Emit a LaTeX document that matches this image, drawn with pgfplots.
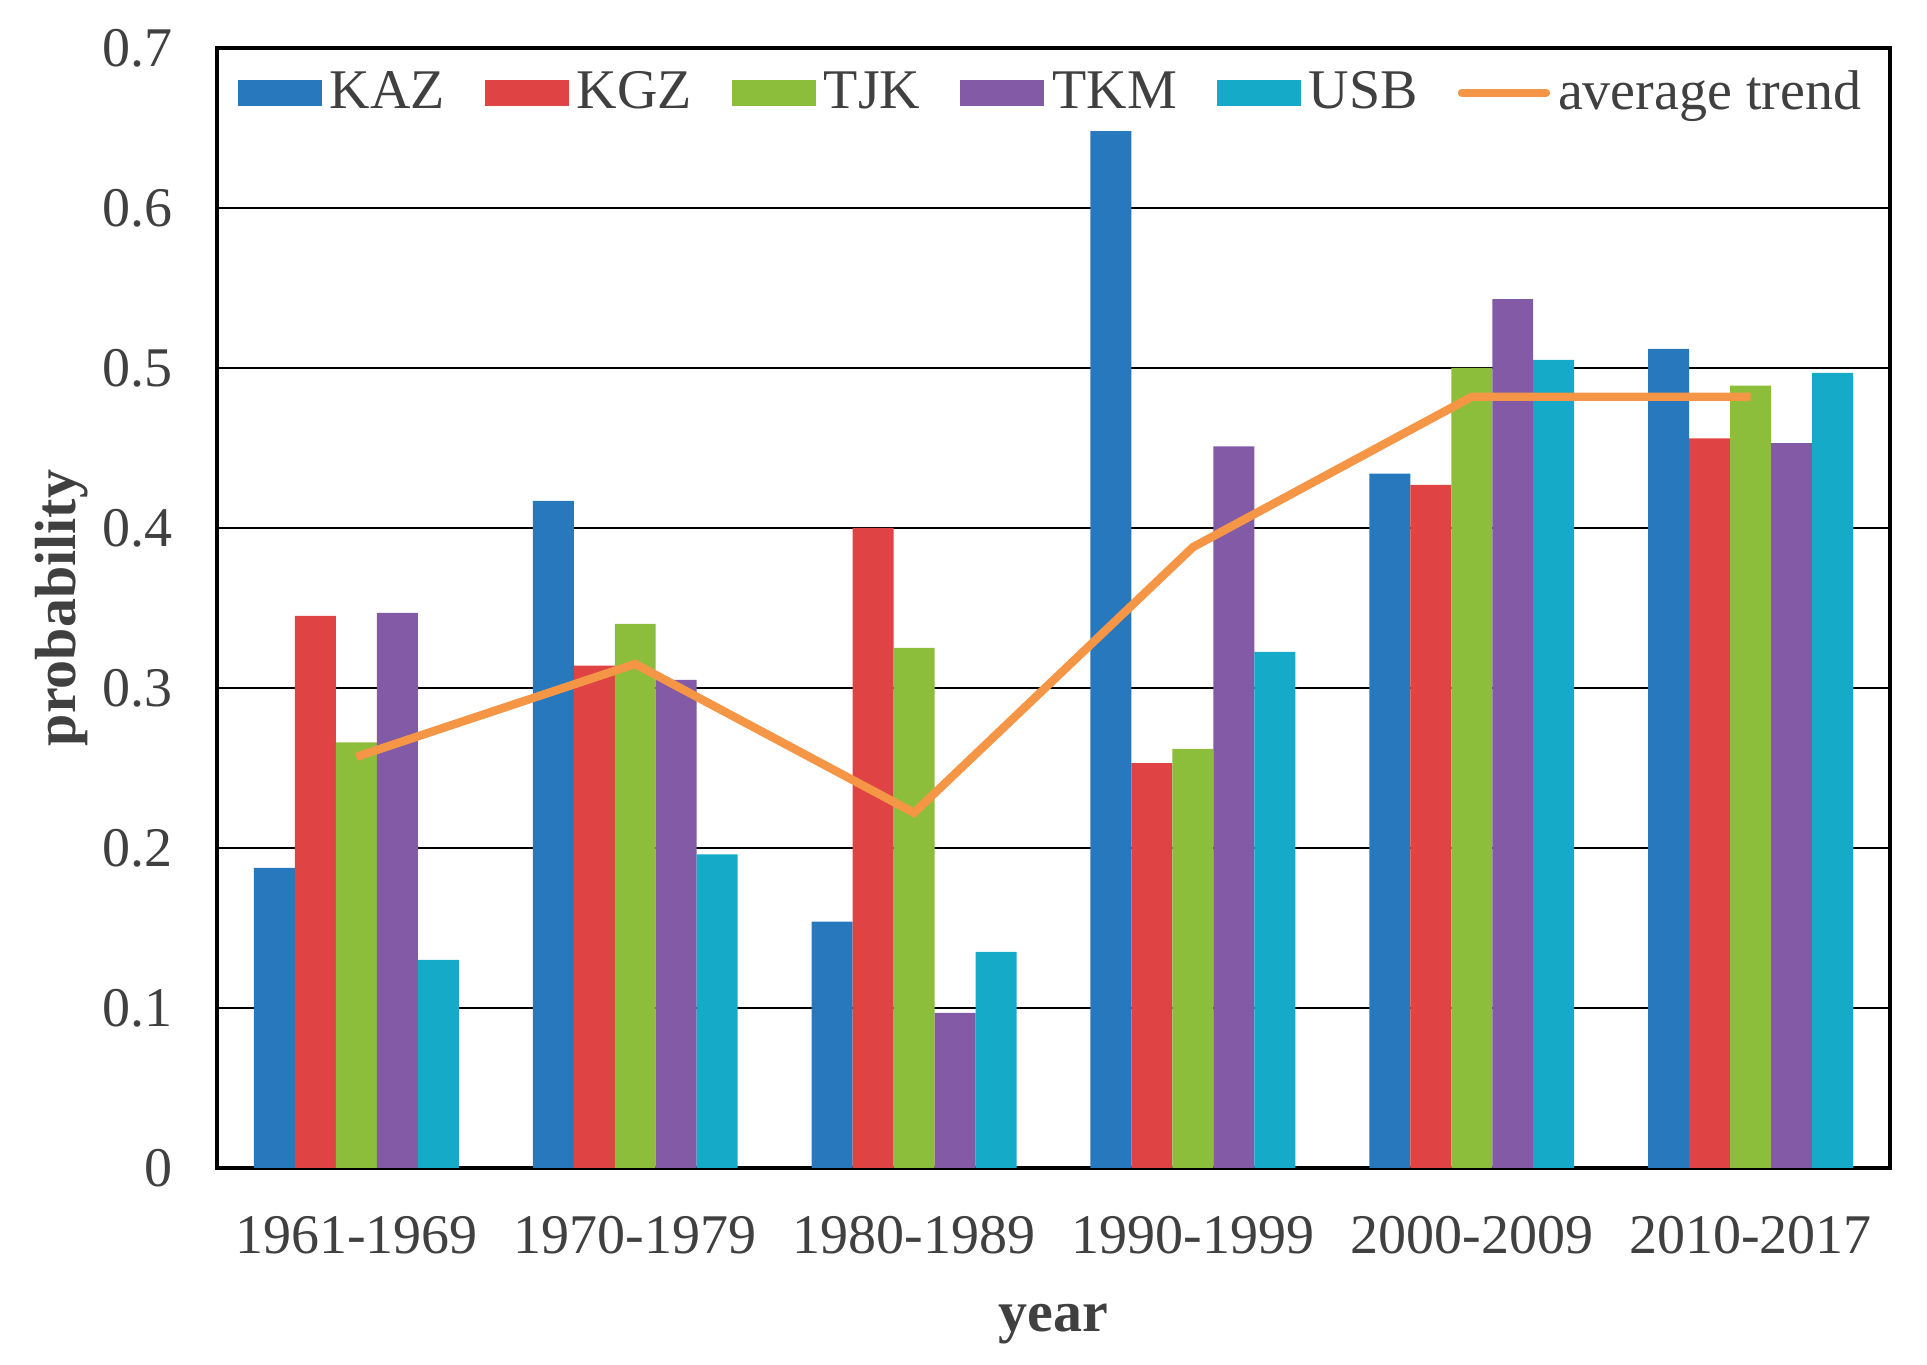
\documentclass[border=0pt]{standalone}
\usepackage{pgfplots}
\pgfplotsset{compat=1.18}
\usepackage{fontspec}
\setmainfont{Liberation Serif}
\definecolor{cKAZ}{HTML}{2878BE}
\definecolor{cKGZ}{HTML}{E04343}
\definecolor{cTJK}{HTML}{8CBE3C}
\definecolor{cTKM}{HTML}{825AA5}
\definecolor{cUSB}{HTML}{14AAC8}
\definecolor{cAVG}{HTML}{F59646}
\definecolor{txt}{HTML}{404040}
\begin{document}
\begin{tikzpicture}
\begin{axis}[
  width=418.25pt, height=280pt, scale only axis,
  xmin=-0.5, xmax=5.5, ymin=0, ymax=0.7,
  xtick={0,1,2,3,4,5},
  xticklabels={1961-1969,1970-1979,1980-1989,1990-1999,2000-2009,2010-2017},
  ytick={0,0.1,0.2,0.3,0.4,0.5,0.6,0.7},
  yticklabel style={/pgf/number format/fixed,/pgf/number format/precision=1},
  /pgf/number format/assume math mode=true,
  major tick length=0pt,
  ymajorgrids, grid style={black, line width=0.4pt},
  axis line style={black, line width=0.9pt},
  tick label style={font=\fontsize{14}{16}\selectfont, text=txt},
  yticklabel style={xshift=-7.5pt},
  xticklabel style={anchor=base, yshift=-21.4pt},
  xlabel={\textbf{year}}, ylabel={\textbf{probability}},
  every axis y label/.style={at={(axis description cs:0,0.5)}, xshift=-38.75pt, rotate=90, anchor=center, font=\fontsize{14.5}{16}\selectfont, text=txt},
  every axis x label/.style={at={(axis description cs:0.5,0)}, yshift=-41pt, anchor=base, font=\fontsize{14.5}{16}\selectfont, text=txt},
  legend columns=6,
  legend style={at={(0.5,0.995)}, anchor=north, draw=none, fill=white,
    font=\fontsize{14}{16}\selectfont, text=txt,
    /tikz/every even column/.append style={column sep=8pt},
    inner xsep=1pt},
  legend cell align=left,
  area legend,
  legend image code/.code={\fill[#1] (0pt,-3.2pt) rectangle (21pt,3.2pt);},
]
\addplot[ybar, bar width=0.147, bar shift=-0.294, fill=cKAZ, draw=none] coordinates {(0,0.1875)(1,0.417)(2,0.154)(3,0.650)(4,0.434)(5,0.512)};
\addlegendentry{KAZ}
\addplot[ybar, bar width=0.147, bar shift=-0.147, fill=cKGZ, draw=none] coordinates {(0,0.345)(1,0.314)(2,0.400)(3,0.253)(4,0.427)(5,0.456)};
\addlegendentry{KGZ}
\addplot[ybar, bar width=0.147, bar shift=0, fill=cTJK, draw=none] coordinates {(0,0.266)(1,0.340)(2,0.325)(3,0.262)(4,0.500)(5,0.489)};
\addlegendentry{TJK}
\addplot[ybar, bar width=0.147, bar shift=0.147, fill=cTKM, draw=none] coordinates {(0,0.347)(1,0.305)(2,0.097)(3,0.451)(4,0.543)(5,0.453)};
\addlegendentry{TKM}
\addplot[ybar, bar width=0.147, bar shift=0.294, fill=cUSB, draw=none] coordinates {(0,0.130)(1,0.196)(2,0.135)(3,0.3225)(4,0.505)(5,0.497)};
\addlegendentry{USB}
\addplot[cAVG, line width=2.1pt, mark=none, sharp plot,
  legend image code/.code={\draw[cAVG, line width=2.1pt, line cap=round] (0pt,0pt) -- (21pt,0pt);}]
  coordinates {(0,0.257)(1,0.315)(2,0.222)(3,0.388)(4,0.482)(5,0.482)};
\addlegendentry{average trend}
\end{axis}
\pgfresetboundingbox
\path ([shift={(-54.25pt,-49.25pt)}]current axis.south west) rectangle ([shift={(9.25pt,12pt)}]current axis.north east);
\end{tikzpicture}
\end{document}
